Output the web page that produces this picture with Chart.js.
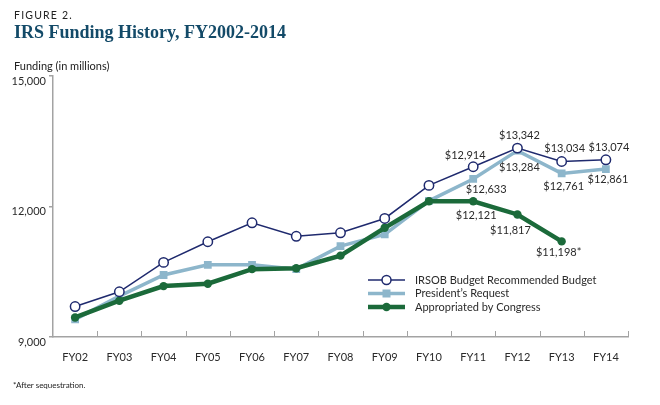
<!DOCTYPE html>
<html>
<head>
<meta charset="utf-8">
<script src="https://cdn.jsdelivr.net/npm/chart.js@4"></script>
<style>
  body { margin: 0; background: #fff; }
  #wrap { position: relative; width: 660px; height: 405px; }
  #figNo { position: absolute; left: 14px; top: 9px; font: 10.5px Lato, sans-serif; letter-spacing: 1.2px; color: #222; }
  #title { position: absolute; left: 14px; top: 22px; font: bold 18px "Liberation Serif", serif; color: #134a68; }
  #yTitle { position: absolute; left: 14px; top: 59px; font: 11px Lato, sans-serif; color: #222; }
  #note { position: absolute; left: 13px; top: 380px; font: 8px Lato, sans-serif; color: #222; }
  #chartBox { position: absolute; left: 0; top: 0; width: 660px; height: 405px; }
</style>
</head>
<body>
<div id="wrap">
  <div id="chartBox"><canvas id="diagram" width="660" height="405"></canvas></div>
  <div id="figNo">FIGURE 2.</div>
  <div id="title">IRS Funding History, FY2002-2014</div>
  <div id="yTitle">Funding (in millions)</div>
  <div id="note">*After sequestration.</div>
</div>
<script>
// Data
var years = ['FY02', 'FY03', 'FY04', 'FY05', 'FY06', 'FY07', 'FY08', 'FY09', 'FY10', 'FY11', 'FY12', 'FY13', 'FY14'];
var irsob = [9700, 10040, 10715, 11190, 11625, 11315, 11395, 11725, 12485, 12914, 13342, 13034, 13074];
var president = [9405, 9940, 10425, 10660, 10660, 10560, 11090, 11360, 12130, 12633, 13284, 12761, 12861];
var congress = [9450, 9835, 10170, 10225, 10560, 10580, 10870, 11510, 12120, 12121, 11817, 11198, null];
var seriesNames = ['IRSOB Budget Recommended Budget', "President\u2019s Request", 'Appropriated by Congress'];
var yTicks = [9000, 12000, 15000];

// which points get a value label: [dataset, index, suffix, dx, dy]
var valueLabels = [
    [0, 9, '', -8, -11], [0, 10, '', 2, -13], [0, 11, '', 3, -13], [0, 12, '', 3, -12],
    [1, 9, '', 13, 10], [1, 10, '', 2, 17], [1, 11, '', 2, 13], [1, 12, '', 2, 10],
    [2, 9, '', 3, 14], [2, 10, '', -7, 16], [2, 11, '*', -3, 11]
];

var navy = '#1f2a6e', lightBlue = '#8db6cb', green = '#1b6a3a', axisGrey = '#a3a3a3', txt = '#2a2a2a';
var fontName = 'Lato, sans-serif';

function gel(id) {
    return document.getElementById(id);
}

// inward tick marks on the x axis + value labels + legend
var extras = {
    id: 'extras',
    afterDraw: function(chart) {
        var ctx = chart.ctx, area = chart.chartArea, xs = chart.scales.x;
        ctx.save();
        // x ticks between categories
        ctx.strokeStyle = axisGrey;
        ctx.lineWidth = 1;
        var step = xs.getPixelForValue(1) - xs.getPixelForValue(0);
        for (var i = 1; i <= years.length; i++) {
            var px = Math.round(xs.getPixelForValue(i) - step / 2) + 0.5;
            ctx.beginPath();
            ctx.moveTo(px, area.bottom);
            ctx.lineTo(px, area.bottom - 6);
            ctx.stroke();
        }
        // value labels
        ctx.font = '11px ' + fontName;
        ctx.fillStyle = txt;
        ctx.textAlign = 'center';
        ctx.textBaseline = 'middle';
        valueLabels.forEach(function(l) {
            var pt = chart.getDatasetMeta(l[0]).data[l[1]];
            var val = chart.data.datasets[l[0]].data[l[1]];
            ctx.fillText('$' + val.toLocaleString('en-US') + l[2], pt.x + l[3], pt.y + l[4]);
        });
        // legend
        var lx = 368, ly = 280, gap = 13.5;
        var styles = [
            { c: navy, w: 1.5, shape: 'ring' },
            { c: lightBlue, w: 3.5, shape: 'square' },
            { c: green, w: 4.5, shape: 'dot' }
        ];
        for (var k = 0; k < 3; k++) {
            var y = ly + k * gap, s = styles[k];
            ctx.strokeStyle = s.c;
            ctx.lineWidth = s.w;
            ctx.beginPath();
            ctx.moveTo(lx, y);
            ctx.lineTo(lx + 37, y);
            ctx.stroke();
            var cx = lx + 18.5;
            if (s.shape == 'ring') {
                ctx.fillStyle = '#fff';
                ctx.lineWidth = 1.5;
                ctx.beginPath();
                ctx.arc(cx, y, 4.5, 0, Math.PI * 2);
                ctx.fill();
                ctx.stroke();
            } else if (s.shape == 'square') {
                ctx.fillStyle = s.c;
                ctx.fillRect(cx - 4, y - 4, 8, 8);
            } else {
                ctx.fillStyle = s.c;
                ctx.beginPath();
                ctx.arc(cx, y, 4.2, 0, Math.PI * 2);
                ctx.fill();
            }
            ctx.fillStyle = txt;
            ctx.textAlign = 'left';
            ctx.fillText(seriesNames[k], lx + 47, y);
        }
        ctx.restore();
    }
};

var chart = new Chart(gel('diagram').getContext('2d'), {
    type: 'line',
    data: {
        labels: years,
        datasets: [{
            label: seriesNames[0],
            data: irsob,
            borderColor: navy,
            borderWidth: 1.5,
            pointStyle: 'circle',
            pointRadius: 4.7,
            pointBackgroundColor: '#fff',
            pointBorderColor: navy,
            pointBorderWidth: 1.5,
            order: 0
        }, {
            label: seriesNames[1],
            data: president,
            borderColor: lightBlue,
            borderWidth: 3.5,
            pointStyle: 'rect',
            pointRadius: 5.5,
            pointBackgroundColor: lightBlue,
            pointBorderColor: lightBlue,
            pointBorderWidth: 0,
            order: 2
        }, {
            label: seriesNames[2],
            data: congress,
            borderColor: green,
            borderWidth: 4.5,
            pointStyle: 'circle',
            pointRadius: 4.2,
            pointBackgroundColor: green,
            pointBorderColor: green,
            pointBorderWidth: 0,
            order: 1
        }]
    },
    options: {
        responsive: false,
        animation: false,
        devicePixelRatio: 1,
        layout: { padding: { left: 0, right: 32, top: 76, bottom: 0 } },
        plugins: {
            legend: { display: false },
            tooltip: { enabled: false }
        },
        scales: {
            x: {
                offset: true,
                afterFit: function(s) { s.height = 68; },
                border: { color: axisGrey, width: 1.5 },
                grid: { display: false },
                ticks: { color: txt, font: { family: fontName, size: 11 }, padding: 6, maxRotation: 0, autoSkip: false }
            },
            y: {
                min: 9000,
                max: 15000,
                afterFit: function(s) { s.width = 53; },
                afterBuildTicks: function(s) { s.ticks = yTicks.map(function(v) { return { value: v }; }); },
                border: { color: axisGrey, width: 1.5 },
                grid: { drawOnChartArea: false, color: axisGrey, tickLength: 4, lineWidth: 1.5 },
                ticks: {
                    color: txt,
                    font: { family: fontName, size: 11 },
                    padding: 3,
                    labelOffset: 5,
                    callback: function(v) { return v.toLocaleString('en-US'); }
                }
            }
        }
    },
    plugins: [extras]
});
</script>
</body>
</html>
